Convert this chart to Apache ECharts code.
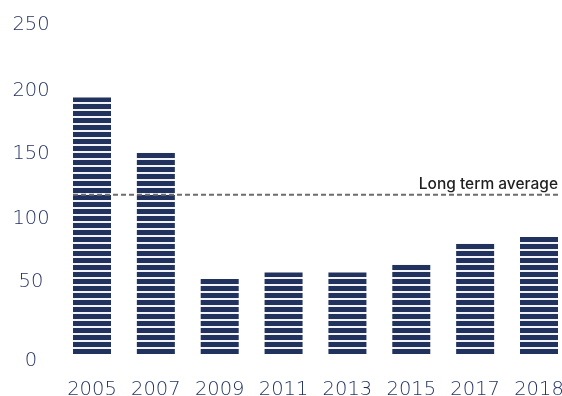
<!DOCTYPE html>
<html>
<head>
<meta charset="utf-8">
<script src="https://cdn.jsdelivr.net/npm/echarts@6/dist/echarts.min.js"></script>
<style>
  html, body { margin: 0; padding: 0; background: #ffffff; }
  #chart { width: 562px; height: 396px; }
</style>
</head>
<body>
<div id="chart"></div>
<script>
// Chart data
const years = ['2005', '2007', '2009', '2011', '2013', '2015', '2017', '2018'];
const values = [195, 153, 57, 62, 62, 68, 84, 89];
const longTermAverage = 121;
const averageLabel = 'Long term average';
const yTicks = [0, 50, 100, 150, 200, 250];

const NAVY = '#22325f';
const TEXT = '#1e2d5e';
const AXIS_FONT = 'DejaVu Sans';
const AXIS_SIZE = 19.5;

// Horizontal stripe fill: 5px navy band, 2px light gap
function stripePattern() {
  const c = document.createElement('canvas');
  c.width = 4; c.height = 7;
  const g = c.getContext('2d');
  g.fillStyle = '#f2f3f7';
  g.fillRect(0, 0, 4, 7);
  g.fillStyle = NAVY;
  g.fillRect(0, 0, 4, 4);
  g.fillRect(0, 6, 4, 1);
  return { image: c, repeat: 'repeat' };
}

// small vertical nudges for the y labels
const labelShift = { 0: 7, 50: -6, 100: -3, 150: -3, 200: 0, 250: 0 };
const rich = {};
yTicks.forEach(function (t) {
  const s = labelShift[t];
  rich['t' + t] = {
    fontFamily: AXIS_FONT, fontWeight: 200, fontSize: AXIS_SIZE, color: TEXT,
    padding: s >= 0 ? [2 * s, 0, 0, 0] : [0, 0, -2 * s, 0]
  };
});

const chart = echarts.init(document.getElementById('chart'), null, { renderer: 'canvas' });
chart.setOption({
  animation: false,
  backgroundColor: '#ffffff',
  grid: [
    { left: 92, right: 23, top: 25, bottom: 42, containLabel: false, outerBoundsMode: 'none' },
    { left: 73, right: 4, top: 25, bottom: 42, containLabel: false, outerBoundsMode: 'none' }
  ],
  xAxis: [
    {
      type: 'category', gridIndex: 0, data: years, boundaryGap: false,
      axisLine: { show: false }, axisTick: { show: false },
      axisLabel: {
        interval: 0, hideOverlap: false, margin: 26,
        fontFamily: AXIS_FONT, fontWeight: 200, fontSize: AXIS_SIZE, color: TEXT
      }
    },
    { type: 'value', gridIndex: 1, min: 0, max: 1, show: false }
  ],
  yAxis: [
    {
      type: 'value', gridIndex: 0, min: 0, max: 250, interval: 50,
      axisLine: { show: false }, axisTick: { show: false }, splitLine: { show: false },
      axisLabel: {
        margin: 61, align: 'center',
        formatter: function (v) { return '{t' + v + '|' + v + '}'; },
        rich: rich
      }
    },
    { type: 'value', gridIndex: 1, min: 0, max: 250, show: false }
  ],
  series: [
    {
      type: 'bar', xAxisIndex: 0, yAxisIndex: 0,
      data: values, barWidth: 38, clip: false,
      itemStyle: { color: stripePattern() }
    },
    {
      type: 'line', xAxisIndex: 1, yAxisIndex: 1,
      symbol: 'circle', symbolSize: 0, silent: true,
      lineStyle: { color: '#6c6c6c', width: 2, type: [5, 3] },
      data: [
        [0, longTermAverage],
        {
          value: [1, longTermAverage],
          label: {
            show: true, position: 'top', align: 'right', distance: 2,
            formatter: averageLabel,
            fontFamily: 'Inter', fontWeight: 500, fontSize: 15.5, color: '#1f1f1f'
          }
        }
      ]
    }
  ]
});
</script>
</body>
</html>
